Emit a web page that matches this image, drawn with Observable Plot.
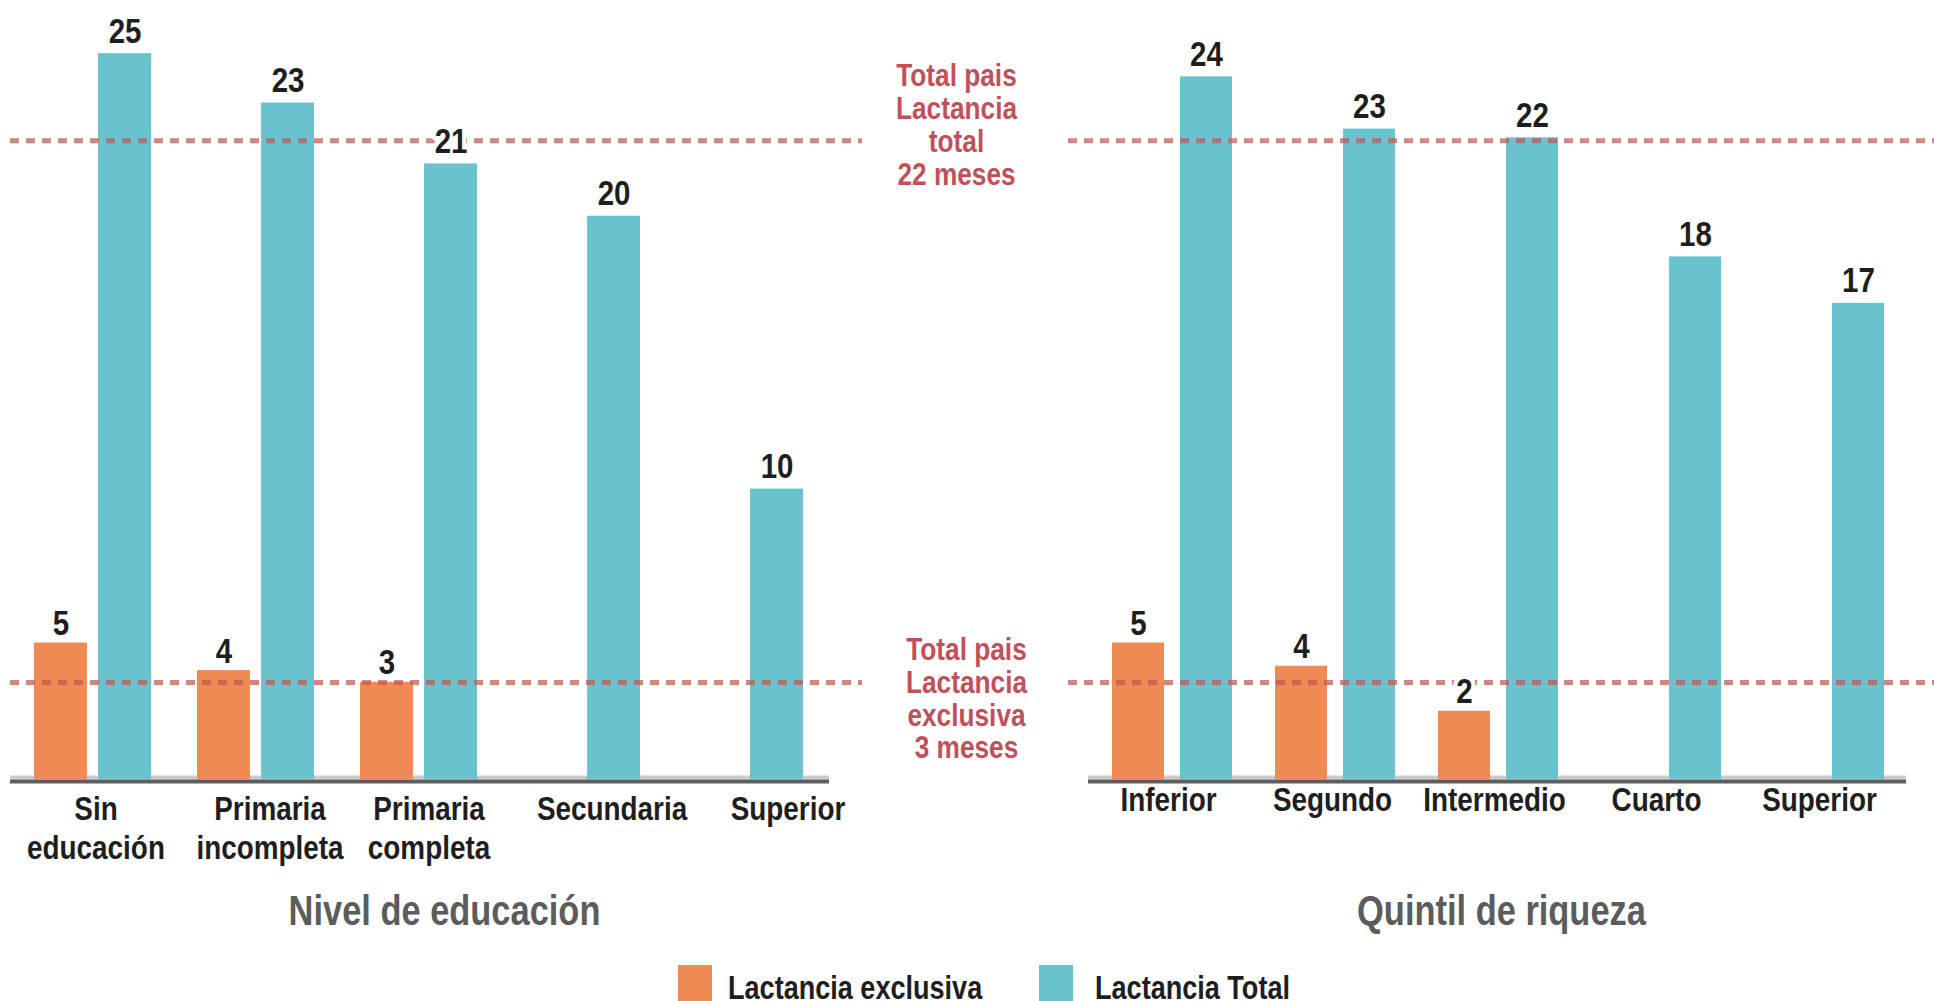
<!DOCTYPE html>
<html><head><meta charset="utf-8">
<script src="https://cdn.jsdelivr.net/npm/d3@7"></script>
<script src="https://cdn.jsdelivr.net/npm/@observablehq/plot@0.6"></script>
<style>
body{margin:0;background:#fff;}
#wrap{position:relative;width:1934px;height:1001px;overflow:hidden;font-family:"Liberation Sans",Arial,sans-serif;}
#left{position:absolute;left:0;top:0;}
#right{position:absolute;left:1040px;top:0;}
.sw{position:absolute;top:965px;width:34px;height:40px;}
.lab{position:absolute;top:971px;font-size:33px;font-weight:bold;color:#1e1e1e;line-height:33px;white-space:nowrap;transform:scaleX(0.82);transform-origin:0 0;}
</style></head>
<body>
<div id="wrap"><div id="left"></div><div id="right"></div><div id="legend"></div></div>
<script>
// ---- data ----
const series = ["Lactancia exclusiva", "Lactancia Total"];
const seriesColors = ["#ef8a54", "#69c3cc"];

const eduCategories = ["Sin\neducación", "Primaria\nincompleta", "Primaria\ncompleta", "Secundaria", "Superior"];
const eduExclusiva = [4.7, 3.75, 3.35, null, null];
const eduExclusivaLabels = ["5", "4", "3", null, null];
const eduTotal = [25.0, 23.3, 21.2, 19.4, 10.0];
const eduTotalLabels = ["25", "23", "21", "20", "10"];

const wealthCategories = ["Inferior", "Segundo", "Intermedio", "Cuarto", "Superior"];
const wealthExclusiva = [4.7, 3.9, 2.35, null, null];
const wealthExclusivaLabels = ["5", "4", "2", null, null];
const wealthTotal = [24.2, 22.4, 22.1, 18.0, 16.4];
const wealthTotalLabels = ["24", "23", "22", "18", "17"];

const refTotal = 22.0;
const refExclusiva = 3.34;
const refTotalText = "Total pais\nLactancia\ntotal\n22 meses";
const refExclusivaText = "Total pais\nLactancia\nexclusiva\n3 meses";
const panelTitles = ["Nivel de educación", "Quintil de riqueza"];
const yMax = 26.83;

// ---- layout / style ----
const FONT = '"Liberation Sans",Arial,sans-serif';
const CONDENSE = 0.82;
const barWidth = 53;
const refColor = "#c0584c";
const annColor = "#c2505a";
const eduLabelShift = [3, 14, 10, 30, 43];      // tick-label nudges seen in the original layout
const wealthLabelShift = [-4, -3, -4, -5, -5];

function condense(svg) {
  svg.querySelectorAll("text").forEach(t => {
    t.setAttribute("transform", (t.getAttribute("transform") || "") + ` scale(${CONDENSE},1)`);
  });
  return svg;
}

function panel(o) {
  const rows = o.cats.map((c, i) => ({cat: c, excl: o.excl[i], exclLab: o.exclLab[i], tot: o.tot[i], totLab: o.totLab[i]}));
  const exRows = rows.filter(d => d.excl != null);
  const W = o.width - o.marginLeft - o.marginRight;
  const n = o.cats.length;
  const step = W / (n - o.pi + 2 * o.po);
  const bw = step * (1 - o.pi);
  const inset = bw - barWidth;
  const off = inset / 2;
  const marks = [
    Plot.ruleY([0], {stroke: "#cccccc", strokeWidth: 4, dy: -2, insetLeft: o.axL, insetRight: o.axR}),
    Plot.barY(exRows, {x: "cat", y: "excl", fill: seriesColors[0], insetRight: inset}),
    Plot.barY(rows, {x: "cat", y: "tot", fill: seriesColors[1], insetLeft: inset}),
    Plot.ruleY([0], {stroke: "#5e5e5e", strokeWidth: 4, dy: 2, insetLeft: o.axL, insetRight: o.axR}),
    Plot.ruleY([refTotal, refExclusiva], {stroke: refColor, strokeWidth: 5, strokeDasharray: "9,7", strokeOpacity: 0.72}),
    Plot.text(exRows, {x: "cat", y: "excl", text: "exclLab", dx: -off, dy: -8, lineAnchor: "bottom",
      fontSize: 36, fontWeight: "bold", fill: "#1e1e1e", stroke: "white", strokeWidth: 10}),
    Plot.text(rows, {x: "cat", y: "tot", text: "totLab", dx: off, dy: -11, lineAnchor: "bottom",
      fontSize: 36, fontWeight: "bold", fill: "#1e1e1e", stroke: "white", strokeWidth: 10}),
    ...o.cats.map((c, i) => Plot.axisX({ticks: [c], dx: o.shift[i], tickSize: 0, tickPadding: o.tickPadding,
      fontSize: 34, fontWeight: "bold", fill: "#1e1e1e", label: null, lineHeight: 1.15})),
    Plot.text([o.title], {text: d => d, frameAnchor: "bottom", dx: o.titleDx, dy: 116, lineAnchor: "top",
      fontSize: 42, fontWeight: "bold", fill: "#5c5c5c"})
  ];
  if (o.annotate) {
    marks.push(
      Plot.text([{v: refTotal, t: refTotalText}], {y: "v", text: "t", frameAnchor: "right", dx: 94, dy: -16,
        lineAnchor: "middle", textAnchor: "middle", fontSize: 32, fontWeight: "bold", lineHeight: 1.03, fill: annColor}),
      Plot.text([{v: refExclusiva, t: refExclusivaText}], {y: "v", text: "t", frameAnchor: "right", dx: 104, dy: 16,
        lineAnchor: "middle", textAnchor: "middle", fontSize: 32, fontWeight: "bold", lineHeight: 1.03, fill: annColor})
    );
  }
  return condense(Plot.plot({
    width: o.width, height: 940,
    marginTop: 0, marginBottom: 161, marginLeft: o.marginLeft, marginRight: o.marginRight,
    style: {fontFamily: FONT, background: "transparent", overflow: "visible"},
    x: {domain: o.cats, paddingInner: o.pi, paddingOuter: o.po, align: o.align},
    y: {domain: [0, yMax], axis: null},
    marks
  }));
}

document.getElementById("left").append(panel({
  cats: eduCategories, excl: eduExclusiva, exclLab: eduExclusivaLabels, tot: eduTotal, totLab: eduTotalLabels,
  title: panelTitles[0], width: 1040, marginLeft: 10, marginRight: 178, shift: eduLabelShift, titleDx: 8,
  pi: 0.284, po: 0.2475, align: 0.284, tickPadding: 13, axL: 0, axR: 33, annotate: true
}));
document.getElementById("right").append(panel({
  cats: wealthCategories, excl: wealthExclusiva, exclLab: wealthExclusivaLabels, tot: wealthTotal, totLab: wealthTotalLabels,
  title: panelTitles[1], width: 894, marginLeft: 28, marginRight: 0, shift: wealthLabelShift, titleDx: 0,
  pi: 0.261, po: 0.275, align: 0.467, tickPadding: 4, axL: 20, axR: 28, annotate: false
}));

// legend (HTML, below the charts)
const legend = document.getElementById("legend");
const swatchLeft = [678, 1039];
const labelLeft = [728, 1095];
series.forEach((s, i) => {
  const sw = document.createElement("div");
  sw.className = "sw";
  sw.style.left = swatchLeft[i] + "px";
  sw.style.background = seriesColors[i];
  const lab = document.createElement("div");
  lab.className = "lab";
  lab.style.left = labelLeft[i] + "px";
  lab.textContent = s;
  legend.append(sw, lab);
});
</script>
</body></html>
